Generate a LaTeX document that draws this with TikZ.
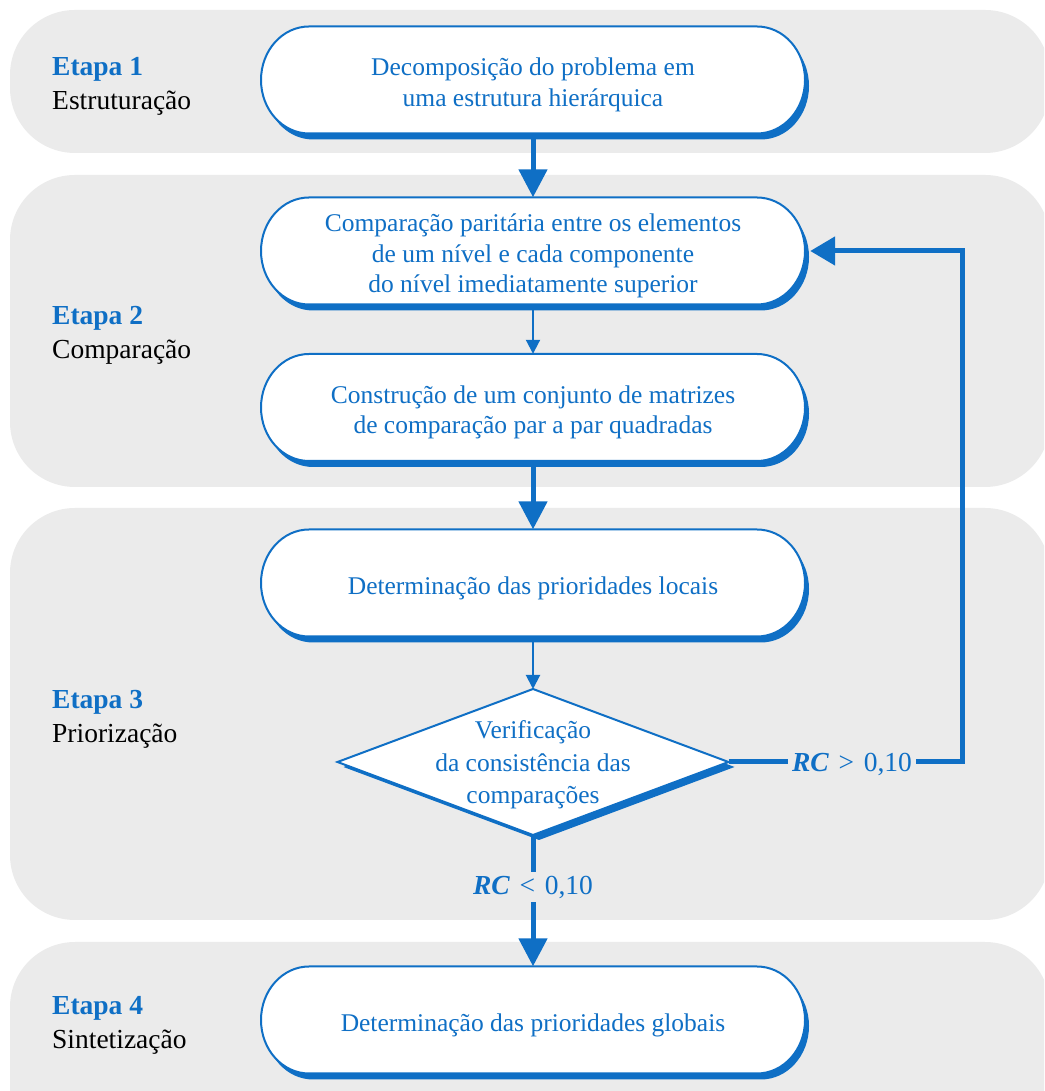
\documentclass[tikz,border=0pt]{standalone}
\usepackage{fontspec}
\setmainfont{Liberation Serif}
\usetikzlibrary{arrows.meta}
\definecolor{flowblue}{HTML}{0F6FC5}
\definecolor{bandgray}{HTML}{EBEBEB}

\tikzset{
  band/.style={fill=bandgray, rounded corners=65pt},
  capsule/.style={insert path={(-224,53.5) -- (224,53.5)
      arc[start angle=90, end angle=-90, x radius=48, y radius=53.5]
      -- (-224,-53.5)
      arc[start angle=270, end angle=90, x radius=48, y radius=53.5] -- cycle}},
  boxframe/.style={minimum width=544pt, minimum height=107pt, inner sep=0pt},
  boxtext/.style={inner sep=0pt, text=flowblue, align=center,
    font=\fontsize{25.5}{30.5}\selectfont},
  dtext/.style={inner sep=0pt, text=flowblue, align=center,
    font=\fontsize{25.5}{32.5}\selectfont},
  stagelabel/.style={anchor=west, inner sep=0pt, align=left,
    font=\fontsize{27.5}{34}\selectfont},
  rclabel/.style={inner sep=4pt, text=flowblue, font=\fontsize{27.5}{32}\selectfont},
  bigflow/.style={draw=flowblue, line width=5pt, -{Triangle[width=28pt,length=28pt]}},
  smallflow/.style={draw=flowblue, line width=2pt, -{Triangle[width=14pt,length=14pt]}},
  plainflow/.style={draw=flowblue, line width=5pt},
}

% capsule-shaped process box with a drop shadow: name, x, y, text
\newcommand\flowcapsule[4]{%
  \begin{scope}[shift={(#2,#3)}]
    \fill[flowblue, shift={(4,-6)}, capsule];
    \filldraw[fill=white, draw=flowblue, line width=2pt, capsule];
    \node[boxframe] (#1) at (0,0) {};
    \node[boxtext] (#1t) at (0,-5) {#4};
  \end{scope}}

\newcommand\stagetext[2]{{\bfseries\color{flowblue}#1}\\#2}
\newcommand\rcrel[1]{\textbf{\textit{RC}}\hspace{0.35em}#1\hspace{0.35em}0,10}

\begin{document}
\begin{tikzpicture}[x=1pt, y=1pt]
  \useasboundingbox (0,0) rectangle (1044,1091);
  \clip (0,0) rectangle (1044,1091);

  % stage bands
  \path[band] (10,938) rectangle (1050,1081);
  \path[band] (10,604) rectangle (1050,916);
  \path[band] (10,171) rectangle (1050,583);
  \path[band] (10,-60) rectangle (1050,149);

  % stage labels
  \node[stagelabel] (s1) at (52,1004.5) {\stagetext{Etapa 1}{Estruturação}};
  \node[stagelabel] (s2) at (52,755.5) {\stagetext{Etapa 2}{Comparação}};
  \node[stagelabel] (s3) at (52,371.5) {\stagetext{Etapa 3}{Priorização}};
  \node[stagelabel] (s4) at (52,65.5) {\stagetext{Etapa 4}{Sintetização}};

  % process boxes
  \flowcapsule{b1}{533}{1011}{Decomposição do problema em\\uma estrutura hierárquica}
  \flowcapsule{b2}{533}{840}{Comparação paritária entre os elementos\\de um nível e cada componente\\do nível imediatamente superior}
  \flowcapsule{b3}{533}{683.5}{Construção de um conjunto de matrizes\\de comparação par a par quadradas}
  \flowcapsule{b4}{533}{508}{Determinação das prioridades locais}
  \flowcapsule{b5}{533}{71}{Determinação das prioridades globais}

  % decision diamond
  \begin{scope}[shift={(533,329)}]
    \fill[flowblue, shift={(6,-5)}] (0,73) -- (195.5,0) -- (0,-73) -- (-195.5,0) -- cycle;
    \filldraw[fill=white, draw=flowblue, line width=2pt, line join=miter]
      (0,73) -- (195.5,0) -- (0,-73) -- (-195.5,0) -- cycle;
    \node[dtext] (check) at (0,-3) {Verificação\\da consistência das\\comparações};
    \coordinate (checkT) at (0,73);
    \coordinate (checkR) at (195.5,0);
    \coordinate (checkB) at (0,-73);
  \end{scope}

  % condition labels
  \node[rclabel] (gt) at (852,327) {\rcrel{>}};
  \node[rclabel] (lt) at (533,204) {\rcrel{<}};
  \coordinate (fbk) at (962,329);

  % connectors
  \draw[bigflow] (b1.south) -- (b2.north);
  \draw[smallflow] (b2.south) -- (b3.north);
  \draw[bigflow] (b3.south) -- (b4.north);
  \draw[smallflow] (b4.south) -- (checkT);
  \draw[plainflow] (checkB) -- (lt.north);
  \draw[bigflow] (lt.south) -- (b5.north);
  \draw[plainflow] (checkR) -- (checkR -| gt.west);
  \draw[bigflow, -{Triangle[width=28pt,length=25pt]}, line join=miter]
    (gt.east |- fbk) -- (fbk) |- ([xshift=5pt]b2.east);
\end{tikzpicture}
\end{document}
